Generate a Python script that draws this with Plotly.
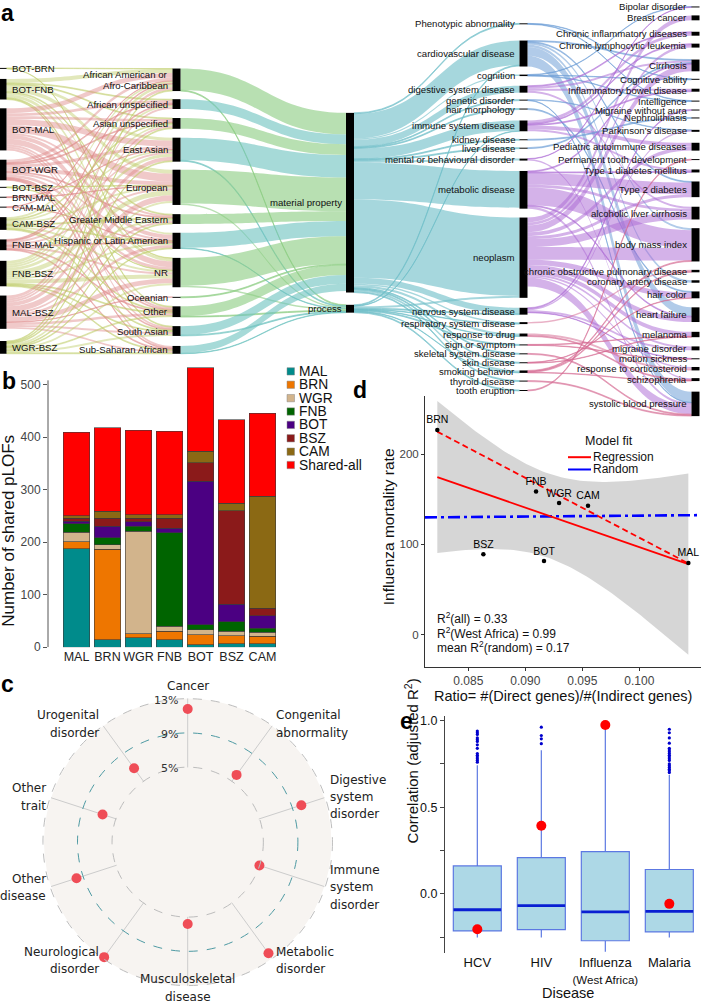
import numpy as np
import plotly.graph_objects as go

FIG_W, FIG_H = 701, 1008

# ============================ DATA ============================
# ---------- panel a : sankey (flows estimated from ribbon widths) ----------
pair_nodes = ["BOT-BRN", "BOT-FNB", "BOT-MAL", "BOT-WGR", "BOT-BSZ", "BRN-MAL",
              "CAM-MAL", "CAM-BSZ", "FNB-MAL", "FNB-BSZ", "MAL-BSZ", "WGR-BSZ"]
ancestry_nodes = ["African American or Afro-Caribbean", "African unspecified",
                  "Asian unspecified", "East Asian", "European", "Greater Middle Eastern",
                  "Hispanic or Latin American", "NR", "Oceanian", "Other",
                  "South Asian", "Sub-Saharan African"]
property_nodes = ["material property", "process"]
category_nodes = ["Phenotypic abnormality", "cardiovascular disease", "cognition",
                  "digestive system disease", "genetic disorder", "hair morphology",
                  "immune system disease", "kidney disease", "liver disease",
                  "mental or behavioural disorder", "metabolic disease", "neoplasm",
                  "nervous system disease", "respiratory system disease", "response to drug",
                  "sign or symptom", "skeletal system disease", "skin disease",
                  "smoking behavior", "thyroid disease", "tooth eruption"]
trait_nodes = ["Bipolar disorder", "Breast cancer", "Chronic inflammatory diseases",
               "Chronic lymphocytic leukemia", "Cirrhosis", "Cognitive ability",
               "Inflammatory bowel disease", "Intelligence", "Migraine without aura",
               "Nephrolithiasis", "Parkinson's disease", "Pediatric autoimmune diseases",
               "Permanent tooth development", "Type 1 diabetes mellitus", "Type 2 diabetes",
               "alcoholic liver cirrhosis", "body mass index",
               "chronic obstructive pulmonary disease", "coronary artery disease",
               "hair color", "heart failure", "melanoma", "migraine disorder",
               "motion sickness", "response to corticosteroid", "schizophrenia",
               "systolic blood pressure"]

# rows follow pair_nodes, columns follow ancestry_nodes
pair_to_ancestry = [
    [0.5, 0, 0, 0, 0, 0, 0, 0.5, 0, 0, 0, 0],
    [4, 1, 1, 3, 4, 1, 2, 3, 0, 1, 1, 0],
    [5, 3, 3, 6, 8, 2, 4, 6, 0, 2, 2, 2],
    [3, 1, 1, 3, 4, 1, 2, 3, 0, 1, 1, 1],
    [0, 0, 0, 0, 0.5, 0, 0, 0.5, 0, 0, 0, 0],
    [0, 0, 0, 0.5, 0.5, 0, 0, 0, 0, 0, 0, 0],
    [0.5, 0, 0, 0, 0, 0, 0.5, 0, 0, 0, 0, 0],
    [2, 0, 1, 2, 2, 1, 1, 2, 0, 1, 1, 0],
    [1, 1, 0, 2, 2, 0, 1, 2, 0, 1, 0, 1],
    [3, 2, 2, 3, 5, 2, 2, 4, 0, 1, 1, 1],
    [3, 2, 2, 4, 6, 2, 3, 5, 0.5, 2.5, 2, 2],
    [1, 0, 1, 1, 2, 1, 1, 2, 0, 1, 2, 1],
]
ancestry_to_material = [22, 10, 11, 23, 34.5, 10, 15.5, 28.5, 1, 10, 9, 7.5]
ancestry_to_process = [1, 0, 0, 1, 1.5, 0, 0.5, 1.5, 0, 1, 1, 0.5]
material_to_category = [1, 25, 1.5, 7, 1, 1, 10.5, 1, 1, 2, 37.5, 80, 6, 1.5, 2.5, 0, 1, 1, 2, 1, 0]
process_to_category = [0, 1, 0, 0, 0, 0, 0.5, 0, 0, 0, 0, 2, 1, 0.5, 0.5, 1, 0, 0, 0.5, 0, 1]
category_to_trait = [
    ("Phenotypic abnormality", "Cognitive ability", 0.5),
    ("Phenotypic abnormality", "Intelligence", 0.5),
    ("cardiovascular disease", "Cirrhosis", 1),
    ("cardiovascular disease", "Type 2 diabetes", 1),
    ("cardiovascular disease", "body mass index", 2),
    ("cardiovascular disease", "coronary artery disease", 2.5),
    ("cardiovascular disease", "heart failure", 9),
    ("cardiovascular disease", "systolic blood pressure", 11),
    ("cognition", "Bipolar disorder", 0.5),
    ("cognition", "Cognitive ability", 0.5),
    ("cognition", "Intelligence", 0.5),
    ("digestive system disease", "Chronic inflammatory diseases", 1),
    ("digestive system disease", "Cirrhosis", 2),
    ("digestive system disease", "Inflammatory bowel disease", 2),
    ("digestive system disease", "alcoholic liver cirrhosis", 2),
    ("genetic disorder", "Parkinson's disease", 0.5),
    ("genetic disorder", "systolic blood pressure", 0.5),
    ("hair morphology", "hair color", 1),
    ("immune system disease", "Chronic inflammatory diseases", 3),
    ("immune system disease", "Chronic lymphocytic leukemia", 1),
    ("immune system disease", "Inflammatory bowel disease", 1),
    ("immune system disease", "Pediatric autoimmune diseases", 4),
    ("immune system disease", "Type 1 diabetes mellitus", 2),
    ("kidney disease", "Nephrolithiasis", 1),
    ("liver disease", "Cirrhosis", 1),
    ("mental or behavioural disorder", "Bipolar disorder", 0.5),
    ("mental or behavioural disorder", "schizophrenia", 1.5),
    ("metabolic disease", "Cirrhosis", 1),
    ("metabolic disease", "Type 1 diabetes mellitus", 1),
    ("metabolic disease", "Type 2 diabetes", 12),
    ("metabolic disease", "alcoholic liver cirrhosis", 3),
    ("metabolic disease", "body mass index", 18),
    ("metabolic disease", "heart failure", 1),
    ("metabolic disease", "systolic blood pressure", 2.5),
    ("neoplasm", "Breast cancer", 5),
    ("neoplasm", "Chronic lymphocytic leukemia", 3),
    ("neoplasm", "Cirrhosis", 7),
    ("neoplasm", "Pediatric autoimmune diseases", 4),
    ("neoplasm", "Type 2 diabetes", 3),
    ("neoplasm", "alcoholic liver cirrhosis", 8),
    ("neoplasm", "body mass index", 13),
    ("neoplasm", "hair color", 5.5),
    ("neoplasm", "heart failure", 5),
    ("neoplasm", "melanoma", 4.5),
    ("neoplasm", "migraine disorder", 2),
    ("neoplasm", "response to corticosteroid", 1.5),
    ("neoplasm", "systolic blood pressure", 9),
    ("nervous system disease", "Migraine without aura", 1),
    ("nervous system disease", "Parkinson's disease", 1.5),
    ("nervous system disease", "migraine disorder", 2),
    ("nervous system disease", "motion sickness", 0.5),
    ("respiratory system disease", "chronic obstructive pulmonary disease", 1.5),
    ("response to drug", "response to corticosteroid", 2),
    ("response to drug", "schizophrenia", 1),
    ("sign or symptom", "melanoma", 0.5),
    ("sign or symptom", "motion sickness", 0.5),
    ("skeletal system disease", "systolic blood pressure", 1),
    ("skin disease", "hair color", 0.5),
    ("skin disease", "melanoma", 0.5),
    ("smoking behavior", "body mass index", 1),
    ("smoking behavior", "chronic obstructive pulmonary disease", 1),
    ("smoking behavior", "schizophrenia", 0.5),
    ("thyroid disease", "systolic blood pressure", 1),
    ("tooth eruption", "Permanent tooth development", 1),
]

# ---------- panel b : stacked bars ----------
b_populations = ["MAL", "BRN", "WGR", "FNB", "BOT", "BSZ", "CAM"]
b_segments = ["MAL", "BRN", "WGR", "FNB", "BOT", "BSZ", "CAM", "Shared-all"]
seg_MAL = [187, 14, 18, 14, 5, 7, 7]
seg_BRN = [14, 172, 8, 16, 19, 15, 14]
seg_WGR = [18, 9, 195, 10, 9, 8, 7]
seg_FNB = [16, 13, 9, 178, 10, 18, 8]
seg_BOT = [5, 22, 9, 8, 273, 34, 24]
seg_BSZ = [5, 15, 6, 19, 35, 178, 14]
seg_CAM = [5, 14, 7, 7, 22, 14, 213]
seg_shared = [159, 159, 161, 159, 159, 159, 158]
b_ticks = [0, 100, 200, 300, 400, 500]

# ---------- panel c : polar dots ----------
c_categories = ["Cancer", "Congenital abnormality", "Digestive system disorder",
                "Immune system disorder", "Metabolic disorder", "Musculoskeletal disease",
                "Neurological disorder", "Other disease", "Other trait", "Urogenital disorder"]
c_percent = [11.8, 5.95, 10.2, 5.05, 12.3, 5.8, 12.85, 9.9, 6.7, 6.9]
c_ticks = [5, 9, 13]

# ---------- panel d : scatter + regression ----------
d_populations = ["BRN", "FNB", "WGR", "CAM", "BSZ", "BOT", "MAL"]
d_ratio = [0.08228, 0.09094, 0.09296, 0.09550, 0.08632, 0.09164, 0.10430]
d_mortality = [227, 158.6, 146, 143, 89, 81.6, 79.5]
d_west_africa = ["BRN", "WGR", "CAM", "MAL"]
d_random_x = [0.08120, 0.10541]
d_random_y = [130, 132.5]
d_r2_texts = ["R<sup>2</sup>(all) = 0.33", "R<sup>2</sup>(West Africa) = 0.99",
              "mean R<sup>2</sup>(random) = 0.17"]

# ---------- panel e : box plots ----------
e_diseases = ["HCV", "HIV", "Influenza", "Malaria"]
e_q1 = [-0.213, -0.206, -0.270, -0.219]
e_median = [-0.091, -0.067, -0.103, -0.101]
e_q3 = [0.162, 0.210, 0.244, 0.141]
e_lower = [-0.251, -0.251, -0.333, -0.251]
e_upper = [0.743, 0.829, 0.971, 0.686]
e_observed = [-0.204, 0.394, 0.975, -0.057]
e_out_HCV = [0.76, 0.77, 0.78, 0.79, 0.80, 0.81, 0.84, 0.86, 0.88, 0.89, 0.90, 0.92, 0.93, 0.94]
e_out_HIV = [0.867, 0.895, 0.914, 0.962]
e_out_Influenza = []
e_out_Malaria = [0.70, 0.71, 0.72, 0.73, 0.74, 0.75, 0.77, 0.78, 0.79, 0.80, 0.81, 0.82,
                 0.83, 0.84, 0.87, 0.90, 0.93, 0.95]
e_ticks = [-0.25, 0, 0.25, 0.5, 0.75, 1.0]

# ============================ STYLE / LAYOUT ============================
def fx(p):
    return p / FIG_W


def fy(p):
    return 1 - p / FIG_H


annotations = []
shapes = []

# ---- sankey geometry (pixel centres of nodes) ----
SANKEY_H = 420
col_x_px = [2.5, 176.5, 350, 523.5, 695.5]
pair_y_px = [67, 88, 128.5, 169.5, 187, 197, 207, 223.5, 245, 274, 313, 348.5]
ancestry_y_px = [78.5, 103, 122.5, 149, 187, 219, 241, 273, 298, 312.5, 332, 351]
property_y_px = [202.5, 309.5]
category_y_px = [22, 52, 74, 88, 99, 108, 125, 139, 147.5, 159, 189.5, 258, 312, 324,
                 336, 346, 355, 364, 373, 382.5, 392]
trait_y_px = [5, 16, 32, 44, 64, 78, 89, 100, 109, 117, 130, 146, 159, 170.5, 189, 213,
              245, 271.5, 282, 295.5, 315.5, 335.5, 349.5, 360, 370, 381, 405.5]

columns = [pair_nodes, ancestry_nodes, property_nodes, category_nodes, trait_nodes]
col_ys = [pair_y_px, ancestry_y_px, property_y_px, category_y_px, trait_y_px]
all_nodes, node_x, node_y = [], [], []
for c, (names, ys) in enumerate(zip(columns, col_ys)):
    for n, y in zip(names, ys):
        all_nodes.append(n)
        node_x.append(col_x_px[c] / FIG_W)
        node_y.append(y / SANKEY_H)
idx = {n: i for i, n in enumerate(all_nodes)}

PINK = "rgba(222,135,135,0.45)"
OLIVE = "rgba(190,205,105,0.45)"
GREEN = "rgba(140,205,130,0.62)"
TEAL = "rgba(112,195,192,0.62)"
BLUEGREEN = "rgba(112,190,200,0.62)"
PURPLE = "rgba(172,108,212,0.52)"
BLUE = "rgba(105,155,212,0.52)"
ROSE = "rgba(212,105,145,0.52)"
pink_pairs = {"BOT-MAL", "BOT-WGR", "BRN-MAL", "CAM-MAL", "FNB-MAL", "MAL-BSZ"}
teal_ancestries = {"African unspecified", "East Asian", "Hispanic or Latin American",
                   "South Asian", "Sub-Saharan African"}
blue_categories = {"Phenotypic abnormality", "cardiovascular disease", "cognition",
                   "genetic disorder", "hair morphology", "kidney disease", "liver disease"}
rose_categories = {"respiratory system disease", "response to drug", "sign or symptom",
                   "skeletal system disease", "skin disease", "smoking behavior",
                   "thyroid disease", "tooth eruption"}

src, tgt, val, lcol = [], [], [], []


def add_link(s, t, v, c):
    if v > 0:
        src.append(idx[s]); tgt.append(idx[t]); val.append(v); lcol.append(c)


for p, row in zip(pair_nodes, pair_to_ancestry):
    for a, v in zip(ancestry_nodes, row):
        add_link(p, a, v, PINK if p in pink_pairs else OLIVE)
for a, vm, vp in zip(ancestry_nodes, ancestry_to_material, ancestry_to_process):
    colr = TEAL if a in teal_ancestries else GREEN
    add_link(a, "material property", vm, colr)
    add_link(a, "process", vp, colr)
for cat, vm, vp in zip(category_nodes, material_to_category, process_to_category):
    add_link("material property", cat, vm, BLUEGREEN)
    add_link("process", cat, vp, BLUEGREEN)
for cat, tr, v in category_to_trait:
    colr = BLUE if cat in blue_categories else (ROSE if cat in rose_categories else PURPLE)
    add_link(cat, tr, v, colr)

fig = go.Figure()
fig.add_trace(go.Sankey(
    domain=dict(x=[0, 1], y=[fy(SANKEY_H), 1]),
    arrangement="fixed",
    hoverinfo="skip",
    node=dict(label=[""] * len(all_nodes), x=node_x, y=node_y, pad=9.27, thickness=8,
              color="black", line=dict(width=0)),
    link=dict(source=src, target=tgt, value=val, color=lcol),
))

# sankey labels
SK_FONT = dict(family="Liberation Sans, Arial", size=9.6, color="#111")
label_display = {"African American or Afro-Caribbean": ["African American or", "Afro-Caribbean"]}
for c, (names, ys) in enumerate(zip(columns, col_ys)):
    for n, y in zip(names, ys):
        if c == 0:
            xpx, anchor = col_x_px[c] + 7.5, "left"
        else:
            xpx, anchor = col_x_px[c] - 6.5, "right"
        lines = label_display.get(n, [n])
        for k, line in enumerate(lines):
            off = (k - (len(lines) - 1) / 2) * 11
            annotations.append(dict(text=line, x=fx(xpx), y=fy(y + off), xref="paper",
                                    yref="paper", xanchor=anchor, yanchor="middle",
                                    showarrow=False, font=SK_FONT))

# ---- panel b ----
b_colors = ["#008B8B", "#EE7600", "#D2B48C", "#006400", "#4B0082", "#8B1A1A", "#8B6914", "#FF0000"]
b_values = [seg_MAL, seg_BRN, seg_WGR, seg_FNB, seg_BOT, seg_BSZ, seg_CAM, seg_shared]
for name, vals, colr in zip(b_segments, b_values, b_colors):
    fig.add_trace(go.Bar(x=b_populations, y=vals, name=name, marker=dict(color=colr,
                  line=dict(color="#3a3a3a", width=0.6)), xaxis="x", yaxis="y",
                  hoverinfo="skip"))
shapes.append(dict(type="line", xref="x domain", yref="y", x0=0, x1=0, y0=0, y1=508,
                   line=dict(color="#555", width=1)))
# manual legend for b
for i, (name, colr) in enumerate(zip(b_segments, b_colors)):
    yc = 372.7 + 13.5 * i
    shapes.append(dict(type="rect", xref="paper", yref="paper", x0=fx(287), x1=fx(294.5),
                       y0=fy(yc + 3.7), y1=fy(yc - 3.7), fillcolor=colr,
                       line=dict(color="#888", width=0.5)))
    annotations.append(dict(text=name, x=fx(298), y=fy(yc), xref="paper", yref="paper",
                            xanchor="left", yanchor="middle", showarrow=False, borderpad=0,
                            font=dict(size=13.8, color="#111")))
annotations.append(dict(text="Number of shared pLOFs", x=fx(8.5), y=fy(534), xref="paper",
                        yref="paper", textangle=-90, showarrow=False, xanchor="center",
                        yanchor="middle", font=dict(size=17, color="#111")))

# ---- panel c ----
fig.add_trace(go.Scatterpolar(r=c_percent, theta=c_categories,
                              mode="markers", subplot="polar", hoverinfo="skip",
                              marker=dict(size=10, color="#EF4D57")))
C_CX, C_CY, C_R = 187.7, 847.7, 145
HOLE = 0.52
R_RANGE = [4.97, 13.03]
BEIGE = "#F7F4F1"
C_FONT = dict(family="DejaVu Sans", size=12, color="#222")
shapes.append(dict(type="circle", xref="paper", yref="paper", layer="below",
                   x0=fx(C_CX - C_R * HOLE - 1), x1=fx(C_CX + C_R * HOLE + 1),
                   y0=fy(C_CY + C_R * HOLE + 1), y1=fy(C_CY - C_R * HOLE - 1),
                   fillcolor=BEIGE, line=dict(width=0)))
ring_colors = {5: "#BDBDBD", 9: "#4E9AA3", 13: "#BDBDBD"}
for v in c_ticks:
    rv = C_R * (HOLE + (1 - HOLE) * (v - R_RANGE[0]) / (R_RANGE[1] - R_RANGE[0]))
    shapes.append(dict(type="circle", xref="paper", yref="paper", layer="above",
                       x0=fx(C_CX - rv), x1=fx(C_CX + rv), y0=fy(C_CY + rv), y1=fy(C_CY - rv),
                       line=dict(color=ring_colors[v], width=1, dash="dash")))
    annotations.append(dict(text="%d%%" % v, x=fx(C_CX - 7.5), y=fy(C_CY - rv + 1.5),
                            xref="paper", yref="paper", xanchor="right", yanchor="middle",
                            showarrow=False, font=dict(family="DejaVu Sans", size=11, color="#333")))
# category labels around the circle
c_label_lines = {"Congenital abnormality": ["Congenital", "abnormality"],
                 "Digestive system disorder": ["Digestive", "system", "disorder"],
                 "Immune system disorder": ["Immune", "system", "disorder"],
                 "Metabolic disorder": ["Metabolic", "disorder"],
                 "Musculoskeletal disease": ["Musculoskeletal", "disease"],
                 "Neurological disorder": ["Neurological", "disorder"],
                 "Other disease": ["Other", "disease"], "Other trait": ["Other", "trait"],
                 "Urogenital disorder": ["Urogenital", "disorder"]}
LABEL_R = 147.3
LINE_H = 17.5
for i, name in enumerate(c_categories):
    ang = np.deg2rad(90 - 360 / len(c_categories) * i)
    axp = C_CX + LABEL_R * np.cos(ang)
    ayp = C_CY - LABEL_R * np.sin(ang)
    lines = c_label_lines.get(name, [name])
    if abs(np.cos(ang)) < 0.1:
        anchor = "center"
    else:
        anchor = "left" if np.cos(ang) > 0 else "right"
    if np.sin(ang) > 0.99:
        ayp -= 10
    for k, line in enumerate(lines):
        yl = ayp + (k - (len(lines) - 1) / 2) * LINE_H
        annotations.append(dict(text=line, x=fx(axp), y=fy(yl), xref="paper", yref="paper",
                                xanchor=anchor, yanchor="middle", showarrow=False,
                                font=C_FONT))

# ---- panel d ----
d_x = np.array(d_ratio)
d_yv = np.array(d_mortality)
coef_all = np.polyfit(d_x, d_yv, 1)
wa = np.array([p in d_west_africa for p in d_populations])
coef_wa = np.polyfit(d_x[wa], d_yv[wa], 1)
xs = np.linspace(d_x.min(), d_x.max(), 80)
fit_all = np.polyval(coef_all, xs)
n_pts = len(d_x)
resid = d_yv - np.polyval(coef_all, d_x)
s_err = np.sqrt(np.sum(resid ** 2) / (n_pts - 2))
sxx = np.sum((d_x - d_x.mean()) ** 2)
T975_DF5 = 2.5706
half = T975_DF5 * s_err * np.sqrt(1 / n_pts + (xs - d_x.mean()) ** 2 / sxx)
fig.add_trace(go.Scatter(x=np.concatenate([xs, xs[::-1]]),
                         y=np.concatenate([fit_all + half, (fit_all - half)[::-1]]),
                         fill="toself", fillcolor="rgba(153,153,153,0.4)", mode="lines",
                         line=dict(width=0), xaxis="x2", yaxis="y2", hoverinfo="skip"))
fig.add_trace(go.Scatter(x=d_random_x, y=d_random_y, mode="lines", xaxis="x2", yaxis="y2",
                         line=dict(color="#0000FF", width=2.6, dash="12px,4px,3px,4px"),
                         hoverinfo="skip"))
fig.add_trace(go.Scatter(x=[xs[0], xs[-1]], y=[fit_all[0], fit_all[-1]], mode="lines",
                         xaxis="x2", yaxis="y2", line=dict(color="#FF0000", width=1.8),
                         hoverinfo="skip"))
xw = d_x[wa]
fig.add_trace(go.Scatter(x=[xw.min(), xw.max()], y=list(np.polyval(coef_wa, [xw.min(), xw.max()])),
                         mode="lines", xaxis="x2", yaxis="y2",
                         line=dict(color="#FF0000", width=1.8, dash="6px,3.5px"),
                         hoverinfo="skip"))
fig.add_trace(go.Scatter(x=d_ratio, y=d_mortality, text=d_populations, mode="markers+text",
                         textposition="top center", xaxis="x2", yaxis="y2",
                         marker=dict(size=4.5, color="black"),
                         textfont=dict(size=10.5, color="black"), hoverinfo="skip"))
for i, t in enumerate(d_r2_texts):
    annotations.append(dict(text=t, x=fx(436), y=fy(621.7 + 14.5 * i), xref="paper",
                            yref="paper", xanchor="left", yanchor="middle", showarrow=False,
                            borderpad=0, font=dict(size=12, color="#111")))
annotations.append(dict(text="Model fit", x=fx(609), y=fy(443.3), xref="paper", yref="paper",
                        xanchor="center", yanchor="middle", showarrow=False,
                        font=dict(size=12.5, color="#111")))
for i, (name, colr) in enumerate([("Regression", "#FF0000"), ("Random", "#0000FF")]):
    yc = 459.3 + 12.4 * i
    shapes.append(dict(type="line", xref="paper", yref="paper", x0=fx(568), x1=fx(591),
                       y0=fy(yc), y1=fy(yc), line=dict(color=colr, width=2)))
    annotations.append(dict(text=name, x=fx(592), y=fy(yc), xref="paper", yref="paper",
                            xanchor="left", yanchor="middle", showarrow=False, borderpad=0,
                            font=dict(size=12, color="#111")))
annotations.append(dict(text="Influenza mortality rate", x=fx(388), y=fy(530), xref="paper",
                        yref="paper", textangle=-90, showarrow=False,
                        font=dict(size=15.5, color="#111")))
annotations.append(dict(text="Ratio= #(Direct genes)/#(Indirect genes)", x=fx(562.5),
                        y=fy(700), xref="paper", yref="paper", showarrow=False,
                        xanchor="center", yanchor="middle", font=dict(size=14.5, color="#111")))

# ---- panel e ----
e_display = ["HCV", "HIV", "Influenza<br><span style='font-size:11.5px'>(West Africa)</span>", "Malaria"]
fig.add_trace(go.Box(x=e_diseases, q1=e_q1, median=e_median, q3=e_q3, lowerfence=e_lower,
                     upperfence=e_upper, width=0.75, whiskerwidth=0, fillcolor="#ADD8E6",
                     line=dict(color="#5C78E2", width=1.2), boxpoints=False,
                     xaxis="x3", yaxis="y3", hoverinfo="skip"))
fig.add_trace(go.Scatter(x=e_diseases, y=e_median, mode="markers", xaxis="x3", yaxis="y3",
                         marker=dict(symbol="line-ew", size=34,
                                     line=dict(width=2.8, color="#0A1FD2")),
                         hoverinfo="skip"))
out_x, out_y = [], []
for dname, outs in zip(e_diseases, [e_out_HCV, e_out_HIV, e_out_Influenza, e_out_Malaria]):
    out_x += [dname] * len(outs)
    out_y += outs
fig.add_trace(go.Scatter(x=out_x, y=out_y, mode="markers", xaxis="x3", yaxis="y3",
                         marker=dict(size=3.2, color="#0000CD"), hoverinfo="skip"))
fig.add_trace(go.Scatter(x=e_diseases, y=e_observed, mode="markers", xaxis="x3", yaxis="y3",
                         marker=dict(size=10, color="#FF0000"), hoverinfo="skip"))
annotations.append(dict(text="Correlation (adjusted R<sup>2</sup>)", x=fx(411.5), y=fy(851),
                        xref="paper", yref="paper", textangle=-90, showarrow=False,
                        font=dict(size=15, color="#111")))
annotations.append(dict(text="Disease", x=fx(568), y=fy(1000), xref="paper", yref="paper",
                        showarrow=False, xanchor="center", yanchor="middle",
                        font=dict(size=14.5, color="#111")))

# ---- panel letters ----
for letter, xp, yp in [("a", 0, 11), ("b", 1, 382), ("c", 0, 688), ("d", 352, 391), ("e", 399, 725)]:
    annotations.append(dict(text="<b>%s</b>" % letter, x=fx(xp), y=fy(yp), xref="paper",
                            yref="paper", xanchor="left", yanchor="middle", showarrow=False,
                            borderpad=0,
                            font=dict(size=23, color="black", family="Liberation Sans, Arial")))

fig.update_layout(
    width=FIG_W, height=FIG_H, margin=dict(l=0, r=0, t=0, b=0),
    paper_bgcolor="white", plot_bgcolor="rgba(0,0,0,0)",
    font=dict(family="Liberation Sans, Arial, sans-serif", size=12, color="#111"),
    showlegend=False, barmode="stack", bargap=0.13,
    xaxis=dict(domain=[fx(48), fx(278)], range=[-0.919, 6.5], anchor="y", showgrid=False,
               zeroline=False, showline=False, ticks="", tickfont=dict(size=12.5, color="#222")),
    yaxis=dict(domain=[fy(651), fy(364.8)], range=[0, 540], anchor="x", tickvals=b_ticks,
               ticks="outside", ticklen=4, tickcolor="#555", showgrid=False, zeroline=False,
               showline=False, tickfont=dict(size=12, color="#444")),
    xaxis2=dict(domain=[fx(425), 1], range=[0.08120, 0.10541], anchor="y2",
                tickvals=[0.085, 0.09, 0.095, 0.1], ticktext=["0.085", "0.090", "0.095", "0.100"],
                ticks="outside", ticklen=3, tickcolor="#333", showline=True, linecolor="#333",
                linewidth=1, showgrid=False, zeroline=False, tickfont=dict(size=12, color="#444")),
    yaxis2=dict(domain=[fy(670.7), fy(398)], range=[-35.6, 264.1], anchor="x2",
                tickvals=[0, 100, 200], ticks="outside", ticklen=3, tickcolor="#333",
                showline=True, linecolor="#333", linewidth=1, showgrid=False, zeroline=False,
                tickfont=dict(size=11.5, color="#444")),
    xaxis3=dict(domain=[fx(445), 1], range=[-0.505, 3.495], anchor="y3", type="category",
                tickvals=e_diseases, ticktext=e_display, ticks="", showline=False,
                showgrid=False, zeroline=False, tickfont=dict(size=13, color="#111")),
    yaxis3=dict(domain=[fy(960), fy(720)], range=[-0.343, 1.029], anchor="x3",
                tickvals=e_ticks, ticktext=["", "0.0", "", "0.5", "", "1.0"], ticks="outside",
                ticklen=4, tickcolor="#444", showline=True, linecolor="#444", linewidth=1,
                showgrid=False, zeroline=False, tickfont=dict(size=12.5, color="#111")),
    polar=dict(
        domain=dict(x=[fx(C_CX - C_R), fx(C_CX + C_R)], y=[fy(C_CY + C_R), fy(C_CY - C_R)]),
        bgcolor=BEIGE, hole=HOLE,
        radialaxis=dict(range=R_RANGE, showticklabels=False, angle=90, showline=False,
                        ticks="", showgrid=False),
        angularaxis=dict(rotation=90, direction="clockwise", showline=False, ticks="",
                         showticklabels=False, gridcolor="#CCCCCC", gridwidth=1),
    ),
    annotations=annotations, shapes=shapes,
)

fig.write_html("out.html", config={"displayModeBar": False},
               post_script="document.body.style.margin='0px';")
